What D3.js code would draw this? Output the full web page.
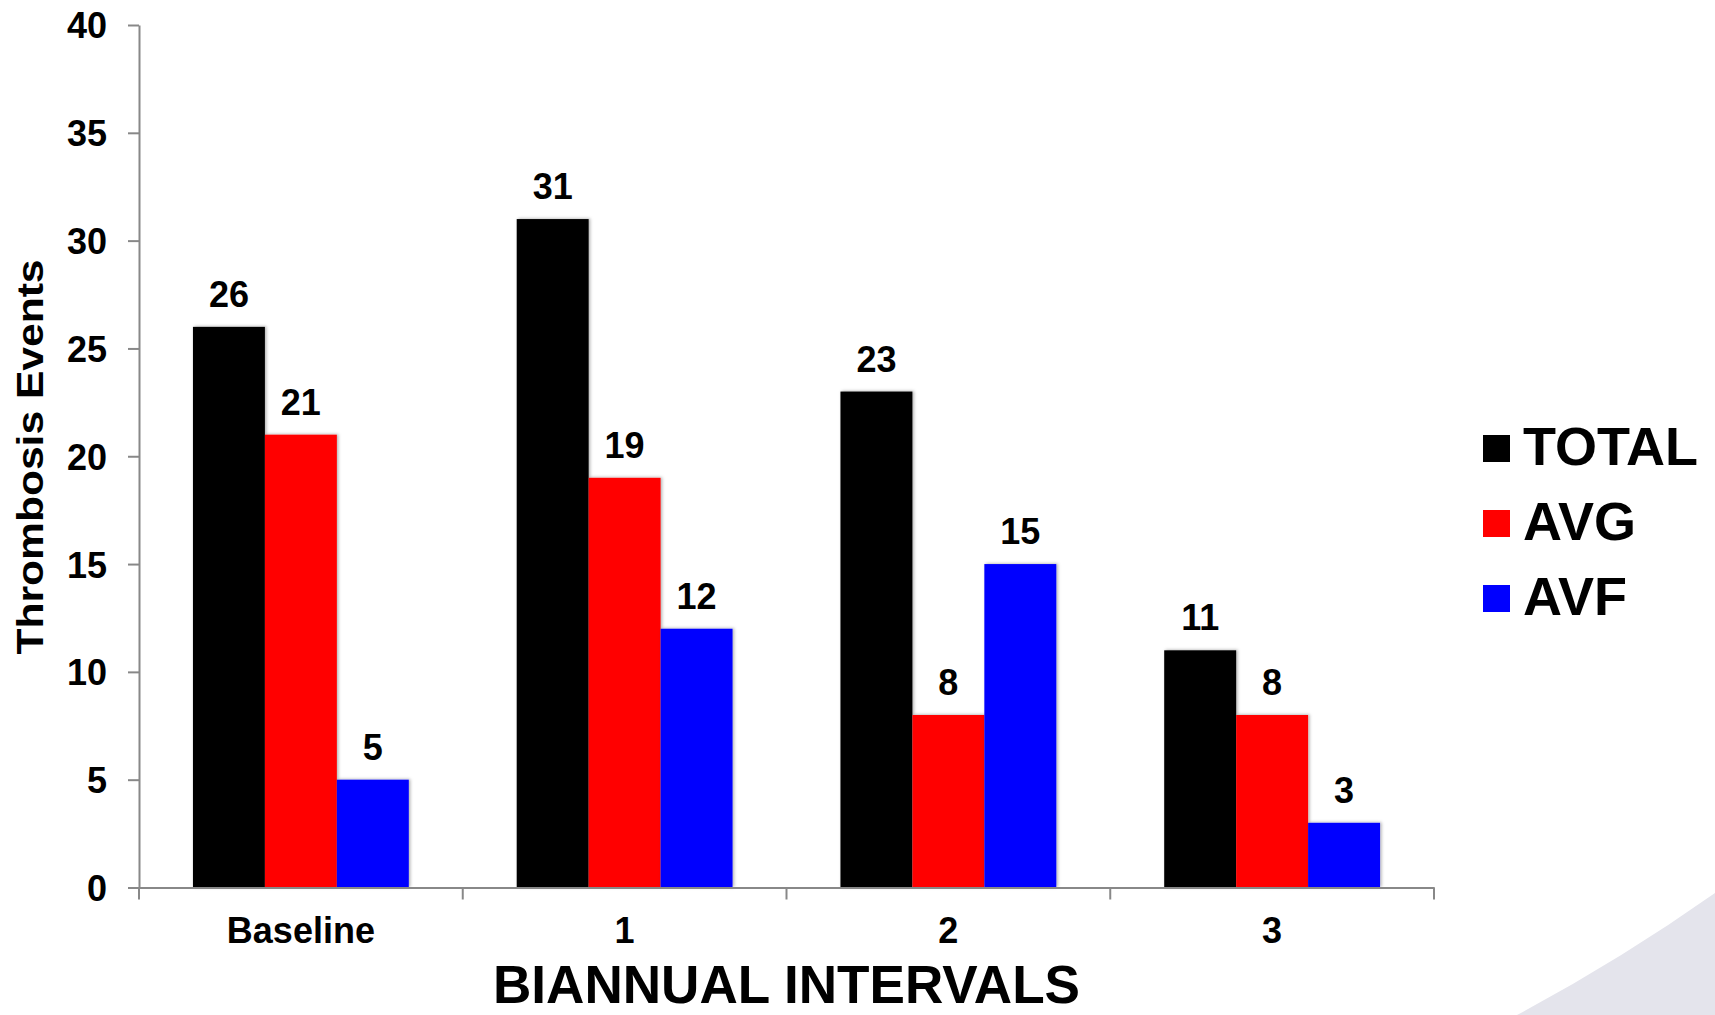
<!DOCTYPE html>
<html>
<head>
<meta charset="utf-8">
<script src="https://cdn.jsdelivr.net/npm/d3@7"></script>
<style>
  html, body { margin: 0; padding: 0; background: #fff; }
  svg { display: block; font-family: "Liberation Sans", Arial, Helvetica, sans-serif; font-weight: bold; }
</style>
</head>
<body>
<svg id="chart" width="1715" height="1015"></svg>
<script>
// Thrombosis events per biannual interval
const categories = ["Baseline", "1", "2", "3"];
const seriesNames = ["TOTAL", "AVG", "AVF"];
const totalEvents = [26, 31, 23, 11];
const avgEvents = [21, 19, 8, 8];
const avfEvents = [5, 12, 15, 3];
const seriesColors = ["#000000", "#ff0000", "#0000ff"];
const yTicks = [0, 5, 10, 15, 20, 25, 30, 35, 40];

const seriesValues = [totalEvents, avgEvents, avfEvents];
const rows = categories.map((c, i) => ({
  category: c,
  values: seriesNames.map((s, j) => ({ series: s, value: seriesValues[j][i], color: seriesColors[j] }))
}));

const svg = d3.select("#chart");
const W = 1715, H = 1015;
const plot = { left: 139, right: 1434, top: 25, bottom: 887.5 };

// soft decorative swoosh in the lower right corner
svg.append("path")
  .attr("d", `M1517,${H} Q1620,960 ${W},893 L${W},${H} Z`)
  .attr("fill", "#e4e4ec");

const defs = svg.append("defs");
const shadow = defs.append("filter").attr("id", "barShadow")
  .attr("x", "-10%").attr("y", "-10%").attr("width", "130%").attr("height", "130%");
shadow.append("feDropShadow")
  .attr("dx", 1.5).attr("dy", -0.5).attr("stdDeviation", 1.5)
  .attr("flood-color", "#000").attr("flood-opacity", 0.3);

const x0 = d3.scaleBand().domain(categories).range([plot.left, plot.right]).padding(0);
const groupPad = x0.bandwidth() / 6;
const x1 = d3.scaleBand().domain(seriesNames).range([groupPad, x0.bandwidth() - groupPad]).padding(0);
const y = d3.scaleLinear().domain([0, 40]).range([plot.bottom, plot.top]);

// bars
const groups = svg.append("g").selectAll("g").data(rows).join("g")
  .attr("transform", d => `translate(${x0(d.category)},0)`);

groups.selectAll("rect").data(d => d.values).join("rect")
  .attr("x", d => x1(d.series))
  .attr("y", d => y(d.value))
  .attr("width", x1.bandwidth())
  .attr("height", d => y(0) - y(d.value))
  .attr("fill", d => d.color)
  .attr("filter", "url(#barShadow)");

groups.selectAll("text").data(d => d.values).join("text")
  .attr("x", d => x1(d.series) + x1.bandwidth() / 2)
  .attr("y", d => y(d.value) - 20)
  .attr("text-anchor", "middle")
  .attr("font-size", 36)
  .attr("fill", "#000")
  .text(d => d.value);

// y axis
const yAxis = svg.append("g")
  .attr("transform", `translate(${plot.left},0)`)
  .call(d3.axisLeft(y).tickValues(yTicks).tickSize(11).tickSizeOuter(0).tickPadding(21));
yAxis.select(".domain").attr("stroke", "#888").attr("stroke-width", 2);
yAxis.selectAll(".tick line").attr("stroke", "#888").attr("stroke-width", 2);
yAxis.selectAll(".tick text")
  .attr("font-size", 36).attr("font-weight", "bold").attr("fill", "#000")
  .attr("font-family", "'Liberation Sans', Arial, sans-serif")
  .attr("dy", "0.36em");

// x axis: labels centred under groups, ticks on group boundaries
const xAxis = svg.append("g")
  .attr("transform", `translate(0,${plot.bottom})`)
  .call(d3.axisBottom(x0).tickSize(0).tickSizeOuter(0).tickPadding(30));
xAxis.select(".domain").attr("stroke", "#888").attr("stroke-width", 2);
xAxis.selectAll(".tick text")
  .attr("font-size", 36).attr("font-weight", "bold").attr("fill", "#000")
  .attr("font-family", "'Liberation Sans', Arial, sans-serif")
  .attr("dy", "0.72em");
const boundaries = categories.map(c => x0(c)).concat([x0(categories[categories.length - 1]) + x0.bandwidth()]);
xAxis.selectAll("line.boundary").data(boundaries).join("line")
  .attr("class", "boundary")
  .attr("x1", d => d).attr("x2", d => d)
  .attr("y1", 0).attr("y2", 12)
  .attr("stroke", "#888").attr("stroke-width", 2);

// axis titles
svg.append("text")
  .attr("x", (plot.left + plot.right) / 2)
  .attr("y", 1003)
  .attr("text-anchor", "middle")
  .attr("font-size", 53)
  .attr("textLength", 587)
  .attr("lengthAdjust", "spacingAndGlyphs")
  .text("BIANNUAL INTERVALS");

svg.append("text")
  .attr("transform", "translate(43,457) rotate(-90)")
  .attr("text-anchor", "middle")
  .attr("font-size", 36)
  .attr("textLength", 395)
  .attr("lengthAdjust", "spacingAndGlyphs")
  .text("Thrombosis Events");

// legend
const legend = svg.append("g").attr("transform", "translate(1483,435)");
const items = legend.selectAll("g").data(seriesNames).join("g")
  .attr("transform", (d, i) => `translate(0,${i * 75})`);
items.append("rect")
  .attr("width", 27).attr("height", 27)
  .attr("fill", (d, i) => seriesColors[i]);
items.append("text")
  .attr("x", 40).attr("y", 30)
  .attr("font-size", 54)
  .text(d => d);
</script>
</body>
</html>
